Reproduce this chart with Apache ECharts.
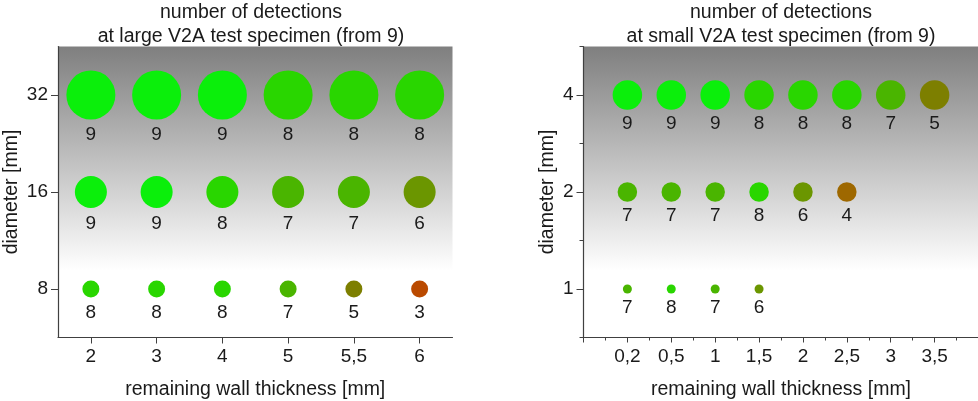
<!DOCTYPE html>
<html>
<head>
<meta charset="utf-8">
<script src="https://cdn.jsdelivr.net/npm/echarts@6/dist/echarts.min.js"></script>
<style>
  html, body { margin: 0; padding: 0; background: #fff; }
  #chart { width: 978px; height: 401px; }
</style>
</head>
<body>
<div id="chart"></div>
<script>
// ---- data ----
const largeWall = ['2', '3', '4', '5', '5,5', '6'];
const largeDiam = ['8', '16', '32'];
const largeCounts8 = [8, 8, 8, 7, 5, 3];
const largeCounts16 = [9, 9, 8, 7, 7, 6];
const largeCounts32 = [9, 9, 9, 8, 8, 8];

const smallWall = ['0,2', '0,5', '1', '1,5', '2', '2,5', '3', '3,5'];
const smallDiam = ['1', '2', '4'];
const smallCounts1 = [7, 8, 7, 6];
const smallCounts2 = [7, 7, 7, 8, 6, 4];
const smallCounts4 = [9, 9, 9, 8, 8, 8, 7, 5];

// ---- styles ----
const countColor = {
  3: '#BA4A00', 4: '#9E6800', 5: '#7D7F00', 6: '#6B9600',
  7: '#4AB500', 8: '#29D600', 9: '#0BEF0B'
};
const largeSizes = [17, 32, 49];
const smallSizes = [9, 19.5, 29.5];
const FONT = '"Liberation Sans", Arial, sans-serif';
const TXT = '#1a1a1a';
const LINE = '#404040';
const FS_NAME = 19.5;
const FS_TICK = 19;

const bg = {
  type: 'linear', x: 0, y: 0, x2: 0, y2: 1,
  colorStops: [
    { offset: 0, color: '#7f7f7f' },
    { offset: 0.77, color: '#ffffff' },
    { offset: 1, color: '#ffffff' }
  ]
};

function buildData(rows, xOffset) {
  const out = [];
  rows.forEach((row, r) => {
    row.forEach((cnt, c) => out.push([c + xOffset, r, cnt]));
  });
  return out;
}
const largeData = buildData([largeCounts8, largeCounts16, largeCounts32], 0);
const smallData = buildData([smallCounts1, smallCounts2, smallCounts4], 1);

const axisLine = { show: true, lineStyle: { color: LINE, width: 1.2 } };
const labelStyle = { color: TXT, fontSize: FS_TICK, fontFamily: FONT, margin: 10 };
const xLabelStyle = { color: TXT, fontSize: FS_TICK, fontFamily: FONT, margin: 10 };
const nameStyle = { color: TXT, fontSize: FS_NAME, fontFamily: FONT };

const chart = echarts.init(document.getElementById('chart'), null, { renderer: 'canvas' });
chart.setOption({
  animation: false,
  backgroundColor: '#ffffff',
  title: [
    {
      text: 'number of detections\nat large V2A test specimen (from 9)',
      left: 251, top: 1, textAlign: 'center', padding: 0,
      textStyle: { color: TXT, fontSize: FS_NAME, fontWeight: 'normal', fontFamily: FONT, lineHeight: 24 }
    },
    {
      text: 'number of detections\nat small V2A test specimen (from 9)',
      left: 781, top: 1, textAlign: 'center', padding: 0,
      textStyle: { color: TXT, fontSize: FS_NAME, fontWeight: 'normal', fontFamily: FONT, lineHeight: 24 }
    }
  ],
  grid: [
    { left: 58, top: 46.5, width: 394.5, height: 291, show: true, backgroundColor: bg, borderWidth: 0,
      containLabel: false, outerBoundsMode: 'none' },
    { left: 583.5, top: 46.5, width: 395, height: 291, show: true, backgroundColor: bg, borderWidth: 0,
      containLabel: false, outerBoundsMode: 'none' }
  ],
  xAxis: [
    {
      gridIndex: 0, type: 'category', data: largeWall, boundaryGap: true,
      axisLine: axisLine,
      axisTick: { show: true, alignWithLabel: true, length: 6, lineStyle: { color: LINE } },
      axisLabel: xLabelStyle,
      splitLine: { show: false },
      name: 'remaining wall thickness [mm]', nameLocation: 'middle', nameGap: 42,
      nameTextStyle: nameStyle
    },
    {
      gridIndex: 1, type: 'value', min: 0, max: 9, interval: 1,
      axisLine: axisLine,
      axisTick: { show: true, length: 5, lineStyle: { color: LINE } },
      minorTick: { show: true, splitNumber: 2, length: 3, lineStyle: { color: LINE } },
      axisLabel: Object.assign({}, xLabelStyle, {
        showMinLabel: true, showMaxLabel: true,
        formatter: function (v) {
          const i = Math.round(v) - 1;
          return (i >= 0 && i < smallWall.length) ? smallWall[i] : '';
        }
      }),
      splitLine: { show: false },
      name: 'remaining wall thickness [mm]', nameLocation: 'middle', nameGap: 42,
      nameTextStyle: nameStyle
    }
  ],
  yAxis: [
    {
      gridIndex: 0, type: 'category', data: largeDiam, boundaryGap: true, position: 'left',
      axisLine: axisLine,
      axisTick: { show: true, alignWithLabel: true, length: 7, lineStyle: { color: LINE } },
      axisLabel: labelStyle,
      splitLine: { show: false },
      name: 'diameter [mm]', nameLocation: 'middle', nameGap: 36, nameRotate: 90,
      nameTextStyle: nameStyle
    },
    {
      gridIndex: 1, type: 'category', data: smallDiam, boundaryGap: true, position: 'left',
      axisLine: axisLine,
      axisTick: { show: true, alignWithLabel: true, length: 7, lineStyle: { color: LINE } },
      axisLabel: labelStyle,
      splitLine: { show: false },
      name: 'diameter [mm]', nameLocation: 'middle', nameGap: 26, nameRotate: 90,
      nameTextStyle: nameStyle
    },
    {
      gridIndex: 1, type: 'value', min: 0, max: 3, interval: 1, position: 'left', offset: 0,
      axisLine: { show: false },
      axisTick: { show: true, length: 4, lineStyle: { color: LINE } },
      axisLabel: { show: false },
      splitLine: { show: false }
    }
  ],
  series: [
    {
      type: 'scatter', xAxisIndex: 0, yAxisIndex: 0,
      data: largeData,
      symbol: 'circle',
      symbolSize: function (val) { return largeSizes[val[1]]; },
      itemStyle: { color: function (p) { return countColor[p.value[2]]; }, opacity: 1 },
      label: {
        show: true, position: 'bottom', distance: 6,
        color: TXT, fontSize: FS_TICK, fontFamily: FONT,
        formatter: function (p) { return String(p.value[2]); }
      },
      emphasis: { disabled: true }
    },
    {
      type: 'scatter', xAxisIndex: 1, yAxisIndex: 1,
      data: smallData,
      symbol: 'circle',
      symbolSize: function (val) { return smallSizes[val[1]]; },
      itemStyle: { color: function (p) { return countColor[p.value[2]]; }, opacity: 1 },
      label: {
        show: true, position: 'bottom', distance: 4.5,
        color: TXT, fontSize: FS_TICK, fontFamily: FONT,
        formatter: function (p) { return String(p.value[2]); }
      },
      emphasis: { disabled: true }
    }
  ]
});
</script>
</body>
</html>
